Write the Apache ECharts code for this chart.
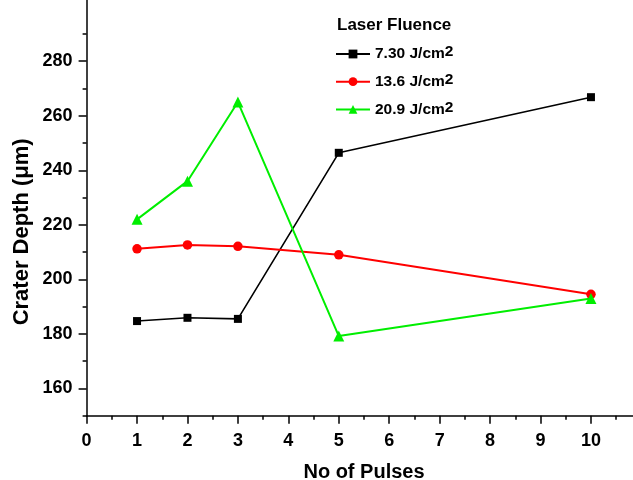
<!DOCTYPE html>
<html>
<head>
<meta charset="utf-8">
<script src="https://cdn.jsdelivr.net/npm/echarts@6/dist/echarts.min.js"></script>
<style>html,body{margin:0;padding:0;background:#fff}#c{width:633px;height:480px}</style>
</head>
<body>
<div id="c"></div>
<script>
const pulses = [1, 2, 3, 5, 10];
const seriesNames = ['7.30', '13.6', '20.9'];
const depth730 = [184.7, 185.9, 185.5, 246.4, 266.8];
const depth136 = [211.2, 212.6, 212.1, 209.0, 194.5];
const depth209 = [222.0, 236.0, 265.0, 179.2, 193.0];
const yMajorTicks = [160, 180, 200, 220, 240, 260, 280];
const yMinorTicks = [150, 170, 190, 210, 230, 250, 270, 290];
const xTickLabels = ['0','1','2','3','4','5','6','7','8','9','10'];

const FONT = '"Liberation Sans", Arial, sans-serif';
const chart = echarts.init(document.getElementById('c'), null, {renderer: 'canvas'});
const pts = arr => pulses.map((x, i) => [x, arr[i]]);

const option = {
  backgroundColor: '#fff',
  animation: false,
  textStyle: {fontFamily: FONT},
  title: {
    text: 'Laser Fluence', left: 332, top: 12,
    textStyle: {fontFamily: FONT, fontSize: 17, fontWeight: 'bold', color: '#000'}
  },
  legend: {
    orient: 'vertical', left: 330, top: 39, itemWidth: 34, itemHeight: 11, itemGap: 9.7,
    data: seriesNames,
    formatter: n => '{a|' + n + ' J/cm}{s|2}',
    textStyle: {
      rich: {
        a: {fontFamily: FONT, fontSize: 15.5, fontWeight: 'bold', color: '#000', lineHeight: 20},
        s: {fontFamily: FONT, fontSize: 15.5, fontWeight: 'bold', color: '#000', lineHeight: 4, verticalAlign: 'top'}
      }
    }
  },
  grid: {left: 86.6, top: -7, width: 554.8, height: 422.7, outerBoundsMode: 'none', containLabel: false},
  xAxis: [{
    type: 'value', min: 0, max: 11, interval: 1,
    name: 'No of Pulses', nameLocation: 'middle', nameGap: 46.5, nameMoveOverlap: false,
    nameTextStyle: {fontFamily: FONT, fontSize: 20, fontWeight: 'bold', color: '#000'},
    axisLine: {show: true, onZero: false, lineStyle: {color: '#000', width: 1.5}},
    axisTick: {show: true, inside: false, length: 8, lineStyle: {color: '#000', width: 1.5}},
    minorTick: {show: true, splitNumber: 2, length: 4, lineStyle: {color: '#000', width: 1.5}},
    axisLabel: {
      margin: 16, fontFamily: FONT, fontSize: 18, fontWeight: 'bold', color: '#000',
      showMaxLabel: true,
      formatter: v => (v >= 0 && v <= 10 && Number.isInteger(v)) ? xTickLabels[v] : ''
    },
    splitLine: {show: false}, minorSplitLine: {show: false}
  }],
  yAxis: [{
    type: 'value', min: 150, max: 305, position: 'left',
    name: 'Crater Depth (\u03bcm)', nameLocation: 'middle', nameGap: 54, nameMoveOverlap: false,
    nameTextStyle: {fontFamily: FONT, fontSize: 22, fontWeight: 'bold', color: '#000', padding: [0, 55, 0, 0]},
    axisLine: {show: true, onZero: false, lineStyle: {color: '#000', width: 1.5}},
    axisTick: {show: true, inside: false, length: 8, customValues: yMajorTicks, lineStyle: {color: '#000', width: 1.5}},
    axisLabel: {margin: 14, customValues: yMajorTicks, fontFamily: FONT, fontSize: 18, fontWeight: 'bold', color: '#000'},
    splitLine: {show: false}
  }, {
    type: 'value', min: 150, max: 305, position: 'left', offset: 0,
    axisLine: {show: false, onZero: false},
    axisTick: {show: true, inside: false, length: 4, customValues: yMinorTicks, lineStyle: {color: '#000', width: 1.5}},
    axisLabel: {show: false},
    splitLine: {show: false}
  }],
  series: [
    {name: seriesNames[0], type: 'line', data: pts(depth730), symbol: 'rect', symbolSize: 8,
     itemStyle: {color: '#000'}, lineStyle: {color: '#000', width: 1.6}},
    {name: seriesNames[1], type: 'line', data: pts(depth136), symbol: 'circle', symbolSize: 9.5,
     itemStyle: {color: '#ff0000'}, lineStyle: {color: '#ff0000', width: 2}},
    {name: seriesNames[2], type: 'line', data: pts(depth209), symbol: 'triangle', symbolSize: 11,
     itemStyle: {color: '#00ee00'}, lineStyle: {color: '#00ee00', width: 2}}
  ]
};
chart.setOption(option);
</script>
</body>
</html>
